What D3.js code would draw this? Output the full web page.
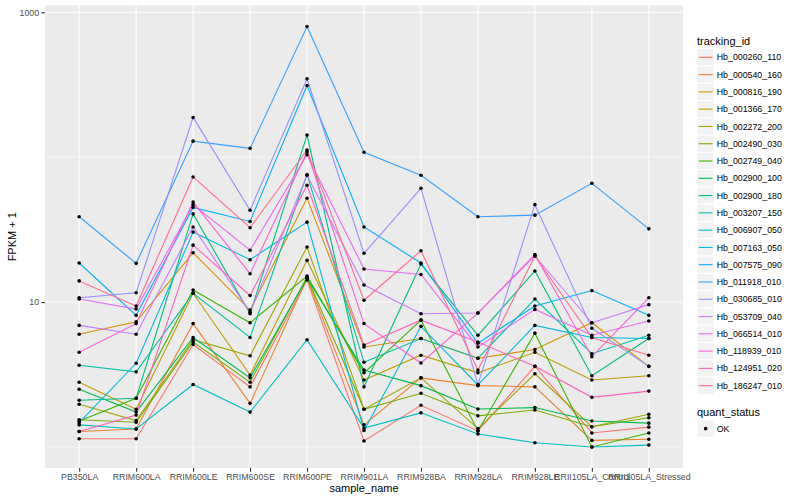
<!DOCTYPE html>
<html>
<head>
<meta charset="utf-8">
<script src="https://cdn.jsdelivr.net/npm/d3@7"></script>
<style>
  body { margin: 0; background: #fff; }
  text { font-family: "Liberation Sans", Arial, sans-serif; }
</style>
</head>
<body>
<svg id="chart" width="800" height="500"></svg>
<script>
const samples = ['PB350LA', 'RRIM600LA', 'RRIM600LE', 'RRIM600SE', 'RRIM600PE', 'RRIM901LA',
  'RRIM928BA', 'RRIM928LA', 'RRIM928LE', 'RRII105LA_Control', 'RRII105LA_Stressed'];

const trackingIds = ['Hb_000260_110', 'Hb_000540_160', 'Hb_000816_190', 'Hb_001366_170', 'Hb_002272_200',
  'Hb_002490_030', 'Hb_002749_040', 'Hb_002900_100', 'Hb_002900_180', 'Hb_003207_150',
  'Hb_006907_050', 'Hb_007163_050', 'Hb_007575_090', 'Hb_011918_010', 'Hb_030685_010',
  'Hb_053709_040', 'Hb_066514_010', 'Hb_118939_010', 'Hb_124951_020', 'Hb_186247_010'];

// FPKM + 1, one row per tracking_id, one value per sample
const fpkm = [
  [1.14, 1.14, 5.1, 2.6, 14.2, 1.1, 1.94, 1.29, 3.6, 1.25, 1.37],
  [1.28, 1.33, 7.1, 2.0, 14.6, 1.42, 3.0, 2.65, 2.6, 1.11, 1.13],
  [6.0, 7.3, 21.9, 8.8, 52, 4.9, 5.6, 4.1, 4.7, 7.2, 3.6],
  [2.8, 1.82, 11.5, 3.14, 19.4, 2.9, 4.3, 3.25, 4.5, 2.9, 3.1],
  [1.97, 1.52, 5.5, 4.26, 24, 1.82, 3.0, 1.34, 3.2, 1.38, 1.68],
  [1.54, 1.48, 5.3, 2.8, 14.9, 1.82, 2.35, 1.64, 1.8, 1.38, 1.59],
  [1.51, 2.17, 12.1, 7.2, 15.1, 3.25, 7.5, 1.29, 6.1, 1.0, 1.25],
  [2.5, 1.74, 5.7, 3.0, 14.6, 3.4, 2.65, 1.83, 1.87, 1.51, 1.46],
  [2.1, 2.17, 40.6, 8.3, 142, 2.6, 18.3, 5.9, 16.4, 3.1, 5.6],
  [3.66, 3.3, 11.5, 5.7, 76, 3.84, 5.6, 4.1, 10.5, 4.4, 5.9],
  [1.42, 1.33, 2.7, 1.74, 5.5, 1.35, 1.72, 1.23, 1.07, 1.0, 1.03],
  [1.47, 3.78, 30.4, 19.6, 35.6, 1.30, 6.8, 2.68, 6.9, 5.7, 5.6],
  [18.6, 8.1, 45, 36, 312, 33, 18.6, 5.2, 9.4, 12.0, 8.1],
  [38.8, 18.5, 129, 115, 797, 108, 75, 38.8, 39.8, 66, 32],
  [10.7, 11.6, 188, 43, 347, 21.7, 61, 2.7, 47, 6.6, 3.6],
  [6.9, 6.0, 33, 8.5, 75, 13.1, 8.3, 8.4, 20.8, 7.2, 9.6],
  [10.5, 8.95, 47, 22.8, 104, 16.9, 15.5, 4.9, 8.9, 5.9, 7.4],
  [4.5, 7.1, 49, 15.7, 109, 7.1, 3.8, 8.4, 21.3, 4.2, 10.7],
  [1.28, 1.66, 24.7, 11.1, 64, 5.05, 7.5, 5.3, 3.6, 2.2, 2.43],
  [14.0, 9.4, 73, 32.6, 112, 10.3, 22.6, 3.4, 20.8, 5.7, 4.3]
];

const yTicks = [10, 1000];
const yMinor = [1, 100];
const quantStatus = ['OK'];

// ggplot default hue palette, 20 levels
const colors = ['#F8766D', '#EA8331', '#D89000', '#C09B00', '#A3A500', '#7CAE00', '#39B600', '#00BB4E',
  '#00BF7D', '#00C1A3', '#00BFC4', '#00BAE0', '#00B0F6', '#35A2FF', '#9590FF', '#C77CFF',
  '#E76BF3', '#FA62DB', '#FF62BC', '#FF6C91'];

const panel = { left: 45, right: 683, top: 5.5, bottom: 468 };
const svg = d3.select('#chart');

const x = d3.scalePoint()
  .domain(samples)
  .range([panel.left, panel.right])
  .padding(0.6);

const allVals = fpkm.flat();
const lo = Math.log10(d3.min(allVals));
const hi = Math.log10(d3.max(allVals));
const pad = (hi - lo) * 0.05;
const y = d3.scaleLog()
  .domain([10 ** (lo - pad), 10 ** (hi + pad)])
  .range([panel.bottom, panel.top]);

const color = d3.scaleOrdinal().domain(trackingIds).range(colors);

// panel background + grid
svg.append('rect')
  .attr('x', panel.left).attr('y', panel.top)
  .attr('width', panel.right - panel.left).attr('height', panel.bottom - panel.top)
  .attr('fill', '#EBEBEB');

svg.selectAll('.minor-y')
  .data(yMinor)
  .enter().append('line')
  .attr('x1', panel.left).attr('x2', panel.right)
  .attr('y1', d => y(d)).attr('y2', d => y(d))
  .attr('stroke', '#fff').attr('stroke-width', 0.55);

svg.selectAll('.major-y')
  .data(yTicks)
  .enter().append('line')
  .attr('x1', panel.left).attr('x2', panel.right)
  .attr('y1', d => y(d)).attr('y2', d => y(d))
  .attr('stroke', '#fff').attr('stroke-width', 1.1);

svg.selectAll('.major-x')
  .data(samples)
  .enter().append('line')
  .attr('x1', d => x(d)).attr('x2', d => x(d))
  .attr('y1', panel.top).attr('y2', panel.bottom)
  .attr('stroke', '#fff').attr('stroke-width', 1.1);

// lines
const line = d3.line()
  .x((d, i) => x(samples[i]))
  .y(d => y(d));

svg.selectAll('.series')
  .data(fpkm)
  .enter().append('path')
  .attr('d', d => line(d))
  .attr('fill', 'none')
  .attr('stroke', (d, i) => color(trackingIds[i]))
  .attr('stroke-width', 1.1);

// points
const pts = fpkm.flatMap(row => row.map((v, i) => ({ s: samples[i], v })));
svg.selectAll('.pt')
  .data(pts)
  .enter().append('circle')
  .attr('cx', d => x(d.s))
  .attr('cy', d => y(d.v))
  .attr('r', 1.8)
  .attr('fill', '#000');

// axes
const yAxis = d3.axisLeft(y).tickValues(yTicks).tickFormat(d3.format('d')).tickSize(3.7).tickPadding(2.2);
const xAxis = d3.axisBottom(x).tickSize(3.7).tickPadding(2.2);

svg.append('g')
  .attr('class', 'y-axis')
  .attr('transform', `translate(${panel.left},0)`)
  .call(yAxis);

svg.append('g')
  .attr('class', 'x-axis')
  .attr('transform', `translate(0,${panel.bottom})`)
  .call(xAxis);

svg.selectAll('.domain').remove();
svg.selectAll('.tick line').attr('stroke', '#333333').attr('stroke-width', 1.1);
svg.selectAll('.tick text')
  .attr('fill', '#4D4D4D')
  .attr('font-size', 8.8)
  .attr('font-family', '"Liberation Sans", Arial, sans-serif');

svg.append('text')
  .attr('x', (panel.left + panel.right) / 2)
  .attr('y', 492)
  .attr('text-anchor', 'middle')
  .attr('font-size', 11)
  .text('sample_name');

svg.append('text')
  .attr('text-anchor', 'middle')
  .attr('transform', `translate(16,${(panel.top + panel.bottom) / 2})rotate(-90)`)
  .attr('font-size', 11)
  .text('FPKM + 1');

// legend: tracking_id
const lgX = 697;
const keySize = 17.28;
const lgTop = 48.7;

svg.append('text')
  .attr('x', lgX).attr('y', 44.5)
  .attr('font-size', 11)
  .text('tracking_id');

const keys = svg.selectAll('.key')
  .data(trackingIds)
  .enter().append('g')
  .attr('transform', (d, i) => `translate(${lgX},${lgTop + i * keySize})`);

keys.append('rect')
  .attr('width', keySize).attr('height', keySize)
  .attr('fill', '#F2F2F2').attr('stroke', '#fff').attr('stroke-width', 1);

keys.append('line')
  .attr('x1', 1.7).attr('x2', keySize - 1.7)
  .attr('y1', keySize / 2).attr('y2', keySize / 2)
  .attr('stroke', d => color(d)).attr('stroke-width', 1.1);

keys.append('text')
  .attr('x', keySize + 2.5).attr('y', keySize / 2 + 3.1)
  .attr('font-size', 8.8)
  .text(d => d);

// legend: quant_status
const qTop = 420;
svg.append('text')
  .attr('x', lgX).attr('y', 415.5)
  .attr('font-size', 11)
  .text('quant_status');

const qKeys = svg.selectAll('.qkey')
  .data(quantStatus)
  .enter().append('g')
  .attr('transform', (d, i) => `translate(${lgX},${qTop + i * keySize})`);

qKeys.append('rect')
  .attr('width', keySize).attr('height', keySize)
  .attr('fill', '#F2F2F2').attr('stroke', '#fff').attr('stroke-width', 1);

qKeys.append('circle')
  .attr('cx', keySize / 2).attr('cy', keySize / 2).attr('r', 1.8)
  .attr('fill', '#000');

qKeys.append('text')
  .attr('x', keySize + 2.5).attr('y', keySize / 2 + 3.1)
  .attr('font-size', 8.8)
  .text(d => d);
</script>
</body>
</html>
